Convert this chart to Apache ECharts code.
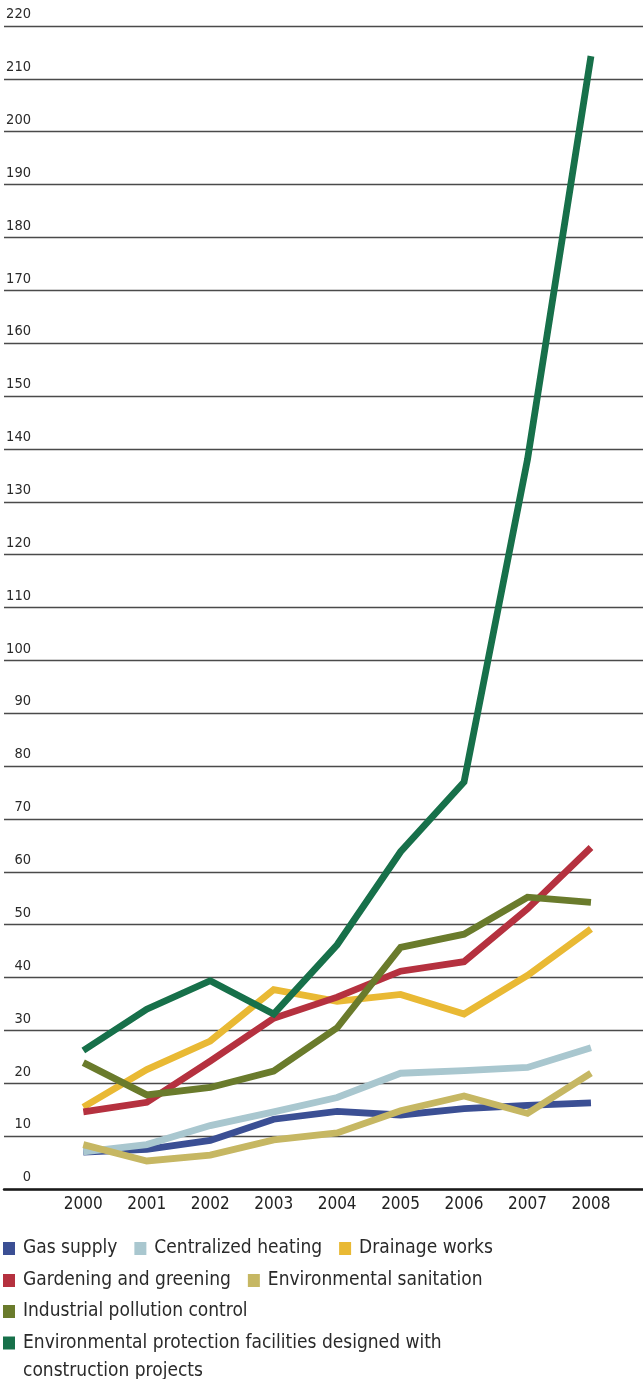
<!DOCTYPE html>
<html>
<head>
<meta charset="utf-8">
<script src="https://cdn.jsdelivr.net/npm/echarts@6/dist/echarts.min.js"></script>
<style>
html,body{margin:0;padding:0;background:#fff;}
#chart{width:643px;height:1379px;}
</style>
</head>
<body>
<div id="chart"></div>
<script>
var years = [2000, 2001, 2002, 2003, 2004, 2005, 2006, 2007, 2008];
var yTicks = [0, 10, 20, 30, 40, 50, 60, 70, 80, 90, 100, 110, 120, 130, 140, 150, 160, 170, 180, 190, 200, 210, 220];

var gasSupply = [7.0, 7.5, 9.2, 13.2, 14.7, 14.0, 15.2, 15.8, 16.3];
var centralizedHeating = [7.0, 8.4, 12.0, 14.6, 17.3, 21.9, 22.4, 23.0, 26.7];
var drainageWorks = [15.5, 22.6, 28.0, 37.7, 35.5, 36.8, 33.1, 40.4, 49.2];
var gardeningGreening = [14.6, 16.4, 24.2, 32.3, 36.3, 41.2, 43.0, 53.0, 64.6];
var envSanitation = [8.4, 5.3, 6.4, 9.3, 10.6, 14.8, 17.6, 14.3, 21.9];
var industrialPollution = [23.9, 17.8, 19.2, 22.3, 30.5, 45.7, 48.2, 55.2, 54.2];
var envProtection = [26.2, 34.0, 39.4, 33.1, 46.2, 63.8, 77.0, 138.0, 214.3];

var seriesNames = [
  'Gas supply',
  'Centralized heating',
  'Drainage works',
  'Gardening and greening',
  'Environmental sanitation',
  'Industrial pollution control',
  'Environmental protection facilities designed with construction projects'
];
var seriesValues = [gasSupply, centralizedHeating, drainageWorks, gardeningGreening, envSanitation, industrialPollution, envProtection];
var seriesColors = ['#3b4f94', '#a9c7cf', '#e9b934', '#b5313f', '#c6b763', '#6a7b2c', '#17704a'];

var font = '"DejaVu Sans Condensed","Liberation Sans Narrow",sans-serif';

var chart = echarts.init(document.getElementById('chart'), null, {renderer: 'canvas'});

var series = seriesNames.map(function (name, i) {
  return {
    name: name,
    type: 'line',
    data: years.map(function (y, j) { return [y, seriesValues[i][j]]; }),
    showSymbol: false,
    symbol: 'none',
    lineStyle: {color: seriesColors[i], width: 6.8, join: 'miter', cap: 'butt'},
    itemStyle: {color: seriesColors[i]},
    z: 2 + i,
    silent: true,
    animation: false
  };
});

function legendRow(names, top, multi) {
  var ts = {fontFamily: font, fontSize: 19, color: '#2a2a2a', padding: [0, 0, 0, 3]};
  if (multi) {
    ts.lineHeight = 28;
  }
  return {
    data: names,
    left: 3,
    top: top,
    orient: 'horizontal',
    icon: 'rect',
    itemWidth: 12,
    itemHeight: 13,
    itemGap: 17,
    padding: 0,
    textStyle: ts,
    formatter: function (n) {
      return n === seriesNames[6] ? '\nEnvironmental protection facilities designed with\nconstruction projects' : n;
    }
  };
}

var option = {
  backgroundColor: '#ffffff',
  animation: false,
  grid: {left: 4, right: 0, top: 26, bottom: 190, containLabel: false},
  xAxis: {
    type: 'value',
    min: 1998.75,
    max: 2008.82,
    splitLine: {show: false},
    axisTick: {show: false},
    axisLine: {show: true, lineStyle: {color: '#1a1a1a', width: 2.5}},
    axisLabel: {
      customValues: years,
      formatter: function (v) { return String(v); },
      fontFamily: font,
      fontSize: 17,
      color: '#222',
      margin: 7
    }
  },
  yAxis: {
    type: 'value',
    min: 0,
    max: 220,
    interval: 10,
    axisLine: {show: false},
    axisTick: {show: false},
    splitLine: {show: true, lineStyle: {color: '#4a4a4a', width: 1.4}},
    axisLabel: {
      inside: true,
      margin: 27,
      verticalAlign: 'bottom',
      align: 'right',
      padding: [0, 0, 4, 0],
      fontFamily: font,
      fontSize: 14.5,
      color: '#2a2a2a',
      showMinLabel: true,
      showMaxLabel: true
    }
  },
  legend: [
    legendRow([seriesNames[0], seriesNames[1], seriesNames[2]], 1239),
    legendRow([seriesNames[3], seriesNames[4]], 1271),
    legendRow([seriesNames[5]], 1302),
    legendRow([seriesNames[6]], 1301, true)
  ],
  series: series
};
chart.setOption(option);
</script>
</body>
</html>
